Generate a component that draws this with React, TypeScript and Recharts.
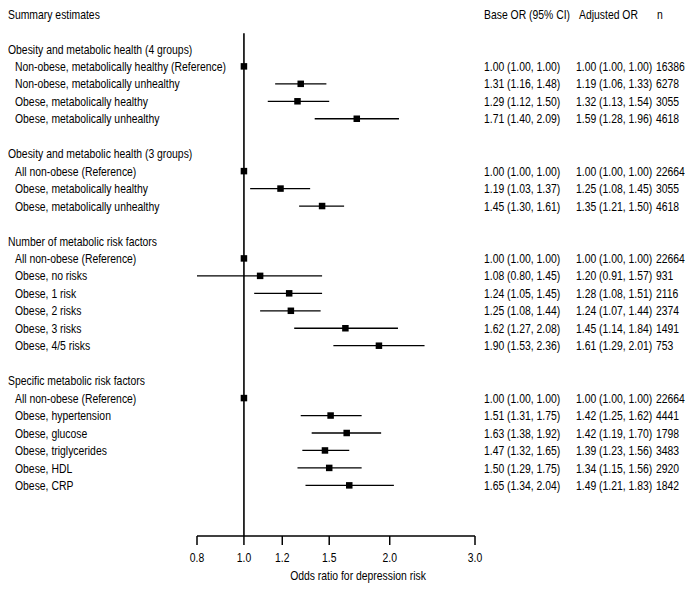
import React from "react";
import {
  ScatterChart,
  Scatter,
  XAxis,
  YAxis,
  ErrorBar,
  ReferenceLine,
} from "recharts";

const sections = [
  "Obesity and metabolic health (4 groups)",
  "Obesity and metabolic health (3 groups)",
  "Number of metabolic risk factors",
  "Specific metabolic risk factors",
];

const subgroups = [
  [
    "Non-obese, metabolically healthy (Reference)",
    "Non-obese, metabolically unhealthy",
    "Obese, metabolically healthy",
    "Obese, metabolically unhealthy",
  ],
  ["All non-obese (Reference)", "Obese, metabolically healthy", "Obese, metabolically unhealthy"],
  [
    "All non-obese (Reference)",
    "Obese, no risks",
    "Obese, 1 risk",
    "Obese, 2 risks",
    "Obese, 3 risks",
    "Obese, 4/5 risks",
  ],
  [
    "All non-obese (Reference)",
    "Obese, hypertension",
    "Obese, glucose",
    "Obese, triglycerides",
    "Obese, HDL",
    "Obese, CRP",
  ],
];

const baseOR = [
  [1.0, 1.31, 1.29, 1.71],
  [1.0, 1.19, 1.45],
  [1.0, 1.08, 1.24, 1.25, 1.62, 1.9],
  [1.0, 1.51, 1.63, 1.47, 1.5, 1.65],
];
const baseLow = [
  [1.0, 1.16, 1.12, 1.4],
  [1.0, 1.03, 1.3],
  [1.0, 0.8, 1.05, 1.08, 1.27, 1.53],
  [1.0, 1.31, 1.38, 1.32, 1.29, 1.34],
];
const baseHigh = [
  [1.0, 1.48, 1.5, 2.09],
  [1.0, 1.37, 1.61],
  [1.0, 1.45, 1.45, 1.44, 2.08, 2.36],
  [1.0, 1.75, 1.92, 1.65, 1.75, 2.04],
];
const adjOR = [
  [1.0, 1.19, 1.32, 1.59],
  [1.0, 1.25, 1.35],
  [1.0, 1.2, 1.28, 1.24, 1.45, 1.61],
  [1.0, 1.42, 1.42, 1.39, 1.34, 1.49],
];
const adjLow = [
  [1.0, 1.06, 1.13, 1.28],
  [1.0, 1.08, 1.21],
  [1.0, 0.91, 1.08, 1.07, 1.14, 1.29],
  [1.0, 1.25, 1.19, 1.23, 1.15, 1.21],
];
const adjHigh = [
  [1.0, 1.33, 1.54, 1.96],
  [1.0, 1.45, 1.5],
  [1.0, 1.57, 1.51, 1.44, 1.84, 2.01],
  [1.0, 1.62, 1.7, 1.56, 1.56, 1.83],
];
const nCounts = [
  [16386, 6278, 3055, 4618],
  [22664, 3055, 4618],
  [22664, 931, 2116, 2374, 1491, 753],
  [22664, 4441, 1798, 3483, 2920, 1842],
];

const xTicks = [0.8, 1.0, 1.2, 1.5, 2.0, 3.0];
const titleText = "Summary estimates";
const columnHeaders = ["Base OR (95% CI)", "Adjusted OR", "n"];
const xLabel = "Odds ratio for depression risk";

type Row = {
  row: number;
  kind: "title" | "section" | "item";
  label: string;
  or?: number;
  err?: [number, number];
  baseText?: string;
  adjText?: string;
  n?: number;
};

const fmt = (v: number) => v.toFixed(2);

const rows: Row[] = [];
rows.push({ row: 0, kind: "title", label: titleText });
let idx = 2;
sections.forEach((sec, s) => {
  rows.push({ row: idx, kind: "section", label: sec });
  idx += 1;
  subgroups[s].forEach((lab, i) => {
    const o = baseOR[s][i];
    rows.push({
      row: idx,
      kind: "item",
      label: lab,
      or: o,
      err: [o - baseLow[s][i], baseHigh[s][i] - o],
      baseText: `${fmt(o)} (${fmt(baseLow[s][i])}, ${fmt(baseHigh[s][i])})`,
      adjText: `${fmt(adjOR[s][i])} (${fmt(adjLow[s][i])}, ${fmt(adjHigh[s][i])})`,
      n: nCounts[s][i],
    });
    idx += 1;
  });
  idx += 1;
});
const lastRow = idx - 2;
const rowTicks = Array.from({ length: lastRow + 1 }, (_, i) => i);
const rowMap: Record<number, Row> = {};
rows.forEach((r) => (rowMap[r.row] = r));
const points = rows.filter((r) => r.kind === "item");

const FONT = "'Liberation Sans', Arial, sans-serif";
const FS = 13;
const SX = 0.8;

const NarrowText = ({
  x,
  y,
  anchor = "start",
  dy = "0.355em",
  children,
}: {
  x: number;
  y: number;
  anchor?: "start" | "middle" | "end";
  dy?: string;
  children: React.ReactNode;
}) => (
  <g transform={`translate(${x},${y}) scale(${SX},1)`}>
    <text x={0} y={0} dy={dy} textAnchor={anchor} fontFamily={FONT} fontSize={FS} fill="#000">
      {children}
    </text>
  </g>
);

const LeftTick = (props: any) => {
  const r = rowMap[props.payload.value];
  if (!r) return null;
  return (
    <NarrowText x={r.kind === "item" ? 7 : 0} y={props.y}>
      {r.label}
    </NarrowText>
  );
};

const RightTick = (props: any) => {
  const r = rowMap[props.payload.value];
  if (!r) return null;
  const y = props.y;
  if (r.kind === "title") {
    return (
      <g>
        <NarrowText x={476} y={y}>{columnHeaders[0]}</NarrowText>
        <NarrowText x={571} y={y}>{columnHeaders[1]}</NarrowText>
        <NarrowText x={649} y={y}>{columnHeaders[2]}</NarrowText>
      </g>
    );
  }
  if (r.kind !== "item") return null;
  return (
    <g>
      <NarrowText x={476} y={y}>{r.baseText}</NarrowText>
      <NarrowText x={568} y={y}>{r.adjText}</NarrowText>
      <NarrowText x={648} y={y}>{r.n}</NarrowText>
    </g>
  );
};

const XTick = (props: any) => (
  <NarrowText x={props.x} y={props.y} anchor="middle" dy="0.71em">
    {Number(props.payload.value).toFixed(1)}
  </NarrowText>
);

const XLabel = (props: any) => {
  const vb = props.viewBox || { x: 0, y: 0, width: 0, height: 0 };
  return (
    <NarrowText x={vb.x + vb.width / 2 + 22} y={vb.y + vb.height - 8}>
      <tspan textAnchor="middle">{xLabel}</tspan>
    </NarrowText>
  );
};

const SquareShape = (p: any) => (
  <rect x={p.cx - 3.25} y={p.cy - 3.25} width={6.5} height={6.5} fill="#000" />
);

export default function App() {
  return (
    <div style={{ width: 677, height: 583, marginTop: -8 }}>
      <ScatterChart
        width={677}
        height={583}
        margin={{ top: 14, right: 0, bottom: 0, left: 0 }}
      >
        <XAxis
          type="number"
          dataKey="or"
          scale="log"
          domain={[0.8, 3.0]}
          allowDataOverflow
          ticks={xTicks}
          interval={0}
          tickSize={9}
          tickMargin={8}
          height={47}
          axisLine={{ stroke: "#000", strokeWidth: 1.5 }}
          tickLine={{ stroke: "#000", strokeWidth: 1.5 }}
          tick={<XTick />}
          label={<XLabel />}
        />
        <YAxis
          yAxisId="left"
          type="number"
          dataKey="row"
          domain={[0, 29.9]}
          reversed
          allowDataOverflow
          ticks={rowTicks}
          interval={0}
          width={189}
          axisLine={false}
          tickLine={false}
          tick={<LeftTick />}
        />
        <YAxis
          yAxisId="right"
          orientation="right"
          type="number"
          dataKey="row"
          domain={[0, 29.9]}
          reversed
          allowDataOverflow
          ticks={rowTicks}
          interval={0}
          width={210}
          axisLine={false}
          tickLine={false}
          tick={<RightTick />}
        />
        <ReferenceLine
          yAxisId="left"
          segment={[
            { x: 1, y: 1.1 },
            { x: 1, y: 29.9 },
          ]}
          stroke="#000"
          strokeWidth={1.6}
        />
        <Scatter
          yAxisId="left"
          data={points}
          isAnimationActive={false}
          shape={<SquareShape />}
        >
          <ErrorBar dataKey="err" direction="x" width={0} stroke="#000" strokeWidth={1.3} />
        </Scatter>
      </ScatterChart>
    </div>
  );
}
